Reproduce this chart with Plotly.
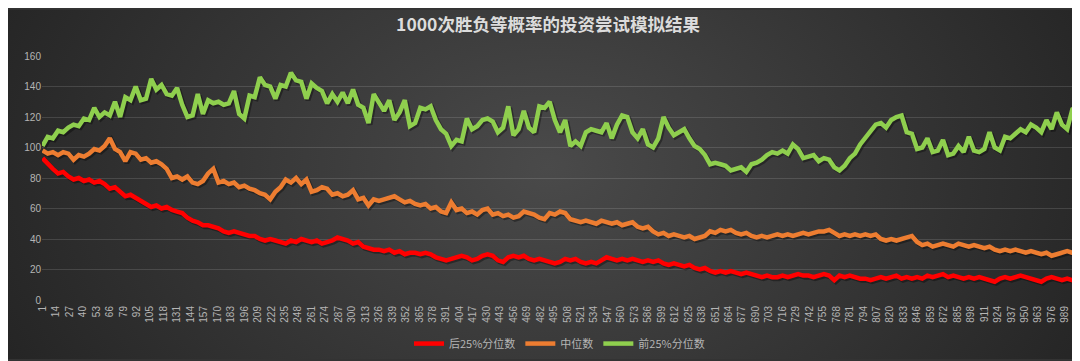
import base64
import plotly.graph_objects as go

# ---------------- data ----------------
title_text = "1000次胜负等概率的投资尝试模拟结果"
series_names = ["后25%分位数", "中位数", "前25%分位数"]

# trial index at which each value was read (every 5th trial, plus the last one)
sample_idx = list(range(1, 1000, 5)) + [1000]

# x tick labels shown on the category axis
tick_labels = list(range(1, 1000, 13))

green_top25 = [
    101, 107, 106, 111, 110, 113, 115, 114, 119, 118,
    126, 120, 123, 121, 130, 120, 133, 131, 140, 131,
    132, 145, 138, 141, 135, 134, 139, 128, 120, 121,
    135, 122, 131, 129, 130, 128, 129, 137, 122, 119,
    134, 133, 146, 141, 140, 132, 141, 140, 149, 144,
    143, 132, 142, 139, 137, 129, 135, 130, 136, 129,
    138, 128, 126, 116, 135, 129, 124, 131, 118, 123,
    131, 114, 116, 126, 125, 127, 118, 112, 109, 101,
    105, 104, 119, 112, 114, 118, 119, 117, 110, 113,
    127, 108, 112, 124, 113, 110, 127, 126, 130, 118,
    110, 118, 101, 104, 101, 110, 112, 111, 110, 116,
    106, 115, 121, 120, 110, 106, 112, 102, 100, 106,
    120, 113, 108, 110, 112, 106, 101, 99, 95, 89,
    90, 89, 88, 85, 86, 87, 84, 89, 90, 92,
    95, 97, 96, 98, 96, 102, 99, 93, 94, 95,
    91, 93, 92, 87, 85, 88, 93, 96, 102, 106,
    110, 115, 116, 113, 118, 120, 121, 110, 109, 99,
    100, 106, 97, 98, 105, 95, 96, 101, 97, 107,
    98, 97, 99, 110, 100, 98, 107, 106, 109, 112,
    110, 115, 113, 110, 118, 112, 123, 115, 112, 125,
    126,
]

orange_median = [
    98, 96, 97, 95, 97, 96, 92, 95, 94, 96,
    99, 98, 101, 106, 99, 97, 91, 97, 96, 92,
    93, 90, 91, 89, 86, 80, 81, 79, 81, 77,
    76, 78, 83, 86, 77, 78, 76, 77, 74, 75,
    73, 72, 70, 69, 66, 71, 74, 79, 77, 80,
    76, 79, 71, 72, 74, 73, 69, 70, 68, 69,
    72, 66, 67, 62, 66, 65, 66, 67, 68, 66,
    64, 65, 63, 62, 63, 60, 61, 58, 57, 64,
    59, 60, 57, 58, 56, 59, 60, 56, 57, 55,
    56, 54, 55, 58, 57, 56, 54, 53, 57, 56,
    58, 57, 53, 52, 51, 52, 51, 50, 52, 51,
    50, 51, 49, 50, 51, 48, 47, 48, 45, 43,
    44, 42, 43, 42, 41, 42, 40, 41, 42, 45,
    44, 46, 45, 46, 44, 43, 44, 42, 41, 42,
    41, 42, 43, 42, 43, 42, 43, 44, 43, 44,
    45, 45, 46, 44, 42, 43, 42, 43, 42, 43,
    42, 43, 40, 39, 40, 39, 40, 41, 42, 38,
    36, 37, 35, 36, 37, 36, 35, 37, 36, 35,
    36, 35, 34, 35, 33, 32, 33, 32, 33, 32,
    31, 32, 31, 30, 31, 29, 30, 31, 32, 31,
    30,
]

red_bottom25 = [
    93, 89, 86, 83, 84, 81, 79, 80, 78, 79,
    77, 78, 76, 73, 74, 71, 68, 69, 67, 65,
    63, 61, 62, 60, 61, 59, 58, 57, 54, 52,
    51, 49, 49, 48, 47, 45, 44, 45, 44, 43,
    42, 42, 40, 39, 40, 39, 38, 37, 39, 38,
    40, 39, 38, 39, 37, 38, 39, 41, 40, 39,
    37, 38, 35, 34, 33, 33, 32, 33, 31, 32,
    30, 31, 31, 30, 31, 30, 28, 27, 26, 27,
    28, 29, 28, 26, 27, 29, 30, 29, 26, 25,
    28, 29, 28, 29, 27, 26, 27, 26, 25, 24,
    25, 27, 26, 27, 25, 24, 25, 24, 26, 28,
    27, 26, 27, 26, 27, 26, 25, 26, 25, 26,
    24, 23, 24, 23, 22, 23, 21, 20, 21, 19,
    18, 19, 18, 19, 18, 17, 18, 17, 16, 15,
    16, 15, 15, 16, 15, 16, 17, 16, 16, 15,
    16, 17, 16, 13, 16, 15, 16, 15, 14, 14,
    13, 14, 15, 14, 15, 16, 14, 15, 14, 15,
    14, 16, 15, 16, 17, 15, 16, 15, 14, 15,
    14, 15, 14, 13, 12, 14, 15, 14, 15, 16,
    15, 14, 13, 12, 14, 15, 14, 13, 14, 13,
    13,
]

colors = ["#FF0000", "#ED7D31", "#8FCF4E"]
series_values = [red_bottom25, orange_median, green_top25]

# ---------------- figure ----------------
W, H = 1080, 361
ML, MR, MT, MB = 34, 11, 48, 61

fig = go.Figure()

# soft drop shadow under each line
for vals in series_values:
    fig.add_trace(go.Scatter(
        x=[i + 1.5 for i in sample_idx], y=[v - 1.0 for v in vals],
        mode="lines", line=dict(color="rgba(0,0,0,0.35)", width=5),
        hoverinfo="skip", showlegend=False))

for name, vals, c in zip(series_names, series_values, colors):
    fig.add_trace(go.Scatter(
        x=sample_idx, y=vals, mode="lines", name=name,
        line=dict(color=c, width=4.5)))

# radial gradient background as an inline SVG image
svg = (
    f'<svg xmlns="http://www.w3.org/2000/svg" width="{W}" height="{H}" '
    f'viewBox="0 0 {W} {H}" preserveAspectRatio="none">'
    '<defs><radialGradient id="g" cx="50%" cy="45%" r="60%" '
    'gradientTransform="translate(0.5 0.45) scale(1 2.2) translate(-0.5 -0.45)">'
    '<stop offset="0%" stop-color="#4a4a4a"/>'
    '<stop offset="100%" stop-color="#222222"/>'
    '</radialGradient></defs>'
    f'<rect width="{W}" height="{H}" fill="url(#g)"/></svg>'
)
bg_src = "data:image/svg+xml;base64," + base64.b64encode(svg.encode()).decode()
pw = W - ML - MR
ph = H - MT - MB
fig.add_layout_image(dict(
    source=bg_src, xref="paper", yref="paper",
    x=-ML / pw, y=1 + MT / ph, sizex=W / pw, sizey=H / ph,
    xanchor="left", yanchor="top", sizing="stretch", layer="below"))

tick_font = dict(family="Liberation Sans, DejaVu Sans, sans-serif", size=10, color="#b5b5b5")

fig.update_layout(
    width=W, height=H,
    margin=dict(l=ML, r=MR, t=MT, b=MB, pad=0),
    paper_bgcolor="#333333",
    plot_bgcolor="rgba(0,0,0,0)",
    title=dict(text=f"<b>{title_text}</b>", x=0.5, xanchor="center",
               y=1 - 17 / H, yanchor="middle",
               font=dict(family="Noto Sans CJK SC, sans-serif", size=17.5, color="#dcdcdc")),
    xaxis=dict(
        range=[0.5, 1000.5], tickmode="array", tickvals=tick_labels,
        ticktext=[str(t) for t in tick_labels], tickangle=-90,
        tickfont=tick_font, showgrid=False, zeroline=False,
        showline=False, ticks="", ticklabelstandoff=3, fixedrange=True),
    yaxis=dict(
        range=[0, 160], tickmode="array", tickvals=list(range(0, 161, 20)),
        tickfont=tick_font, showgrid=True, gridcolor="rgba(255,255,255,0.13)",
        gridwidth=1, zeroline=False, showline=False, ticks="", ticksuffix="  ",
        fixedrange=True),
    legend=dict(orientation="h", x=0.5, xanchor="center", y=-(345 - 300) / ph,
                yanchor="middle", bgcolor="rgba(0,0,0,0)",
                font=dict(family="Noto Sans CJK SC, sans-serif", size=11, color="#b5b5b5"),
                itemwidth=30, tracegroupgap=0),
    showlegend=True,
)

fig.write_html("out.html")
